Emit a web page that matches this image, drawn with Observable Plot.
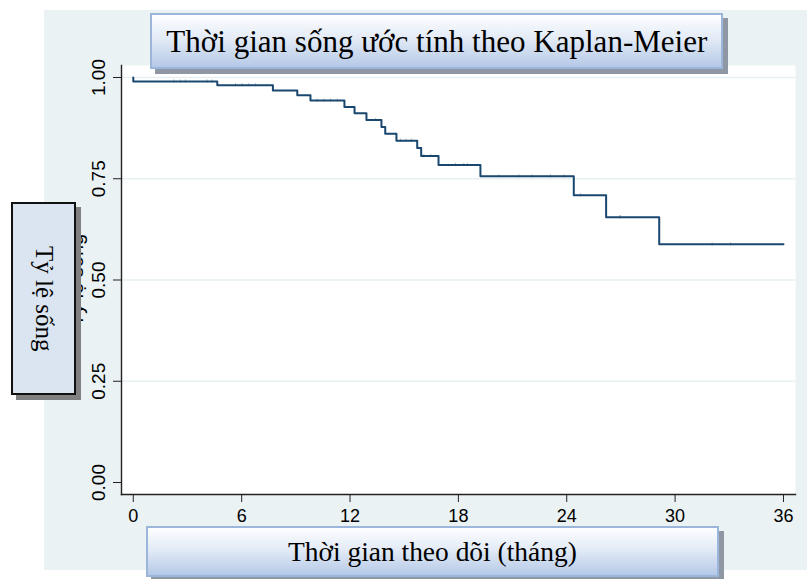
<!DOCTYPE html>
<html>
<head>
<meta charset="utf-8">
<script src="https://cdn.jsdelivr.net/npm/d3@7"></script>
<script src="https://cdn.jsdelivr.net/npm/@observablehq/plot@0.6"></script>
<style>
  html, body { margin: 0; padding: 0; background: #ffffff; }
  #wrap { position: relative; width: 807px; height: 579px; overflow: hidden; background: #ffffff; }
  #bg { position: absolute; left: 44px; top: 10px; width: 763px; height: 560px; background: #eaf2f3; }
  #chart { position: absolute; left: 0; top: 0; }
  .gbox {
    position: absolute; box-sizing: border-box;
    border: 2px solid #9bb6da;
    background: linear-gradient(#fdfeff 0%, #e3ebf6 45%, #b5c9e7 100%);
    box-shadow: 5px 5px 0 #8e97a3;
    display: flex; align-items: center; justify-content: center;
    font-family: "Liberation Serif", "Times New Roman", serif; color: #000;
    white-space: nowrap;
  }
  .gbox span { display: inline-block; }
  #title { left: 150px; top: 13px; width: 573px; height: 56px; font-size: 32px; }
  #title span { transform: scaleX(0.97); }
  #xlab { left: 146px; top: 526px; width: 573px; height: 51px; font-size: 28px; }
  #xlab span { transform: scaleX(0.98); }
  #ylab {
    position: absolute; box-sizing: border-box;
    left: 11px; top: 202px; width: 65px; height: 193px;
    background: #dbe5f1; border: 2px solid #111;
    box-shadow: 5px 5px 0 #808080;
    display: flex; align-items: center; justify-content: center;
    font-family: "Liberation Serif", "Times New Roman", serif; font-size: 25px; color: #000;
  }
  #ylab span { writing-mode: vertical-rl; white-space: nowrap; }
</style>
</head>
<body>
<div id="wrap">
  <div id="bg"></div>
  <div id="chart"></div>
  <div id="title" class="gbox"><span>Thời gian sống ước tính theo Kaplan-Meier</span></div>
  <div id="ylab"><span>Tỷ lệ sống</span></div>
  <div id="xlab" class="gbox"><span>Thời gian theo dõi (tháng)</span></div>
</div>
<script>
// Kaplan-Meier step points (months, survival)
const kmTime = [0, 0, 4.65, 7.73, 9.08, 9.81, 11.69, 12.25, 12.91, 13.74, 13.95, 14.57, 15.72, 15.94, 16.9, 19.22, 24.39, 26.18, 29.12, 36];
const kmSurv = [1.0, 0.990, 0.981, 0.968, 0.956, 0.943, 0.927, 0.912, 0.895, 0.878, 0.861, 0.844, 0.826, 0.806, 0.784, 0.756, 0.709, 0.655, 0.588, 0.588];
// censored observation times (months)
const censorTime = [2.24, 2.61, 2.89, 4.09, 4.37, 5.66, 6.03, 6.4, 6.77, 10.18, 10.55, 10.92, 11.29, 13.41, 14.8, 15.1, 15.4, 16.09, 16.46, 17.84, 18.3, 18.5, 20.24, 21.35, 22.09, 23.1, 23.84, 24.76, 26.94, 26.98, 32.05, 33.07];
const xTicks = [0, 6, 12, 18, 24, 30, 36];
const yTicks = [0, 0.25, 0.5, 0.75, 1];
const yGrid = [0.25, 0.5, 0.75, 1];
const yTitle = "Tỷ lệ sống";

const km = kmTime.map((t, i) => ({t, s: kmSurv[i]}));
function survAt(t) {
  let s = 1;
  for (let i = 0; i < kmTime.length; i++) if (kmTime[i] <= t) s = kmSurv[i];
  return s;
}
const cens = censorTime.map(t => ({t, s: survAt(t)}));

const navy = "#1a476f";
const chart = Plot.plot({
  width: 807, height: 579,
  marginLeft: 121, marginRight: 12, marginTop: 65, marginBottom: 85,
  style: {background: "transparent", fontFamily: "'Liberation Sans', Arial, sans-serif", color: "#000"},
  x: {domain: [-0.653, 36.666]},
  y: {domain: [-0.0296, 1.0296]},
  marks: [
    Plot.frame({fill: "#ffffff", stroke: null}),
    Plot.text([yTitle], {frameAnchor: "left", dx: -45, rotate: -90, fontSize: 20, fill: "#000", textAnchor: "middle", lineAnchor: "middle"}),
    Plot.ruleY(yGrid, {stroke: "#e6eff1", strokeWidth: 1.6}),
    Plot.axisY({ticks: yTicks, tickFormat: d3.format(".2f"), tickSize: 8, tickRotate: -90, tickPadding: 9, fontSize: 19, stroke: "#222", label: null}),
    Plot.axisX({ticks: xTicks, tickFormat: d3.format("d"), tickSize: 8, tickPadding: 7, fontSize: 18, stroke: "#222", label: null}),
    Plot.frame({anchor: "left", stroke: "#222", strokeWidth: 1.4}),
    Plot.frame({anchor: "bottom", stroke: "#222", strokeWidth: 1.4}),
    Plot.ruleX(cens, {x: "t", y1: d => d.s - 0.004, y2: d => d.s + 0.004, stroke: navy, strokeWidth: 1, strokeOpacity: 0.35}),
    Plot.line(km, {x: "t", y: "s", curve: "step-after", stroke: navy, strokeWidth: 2})
  ]
});
document.getElementById("chart").appendChild(chart);
</script>
</body>
</html>
